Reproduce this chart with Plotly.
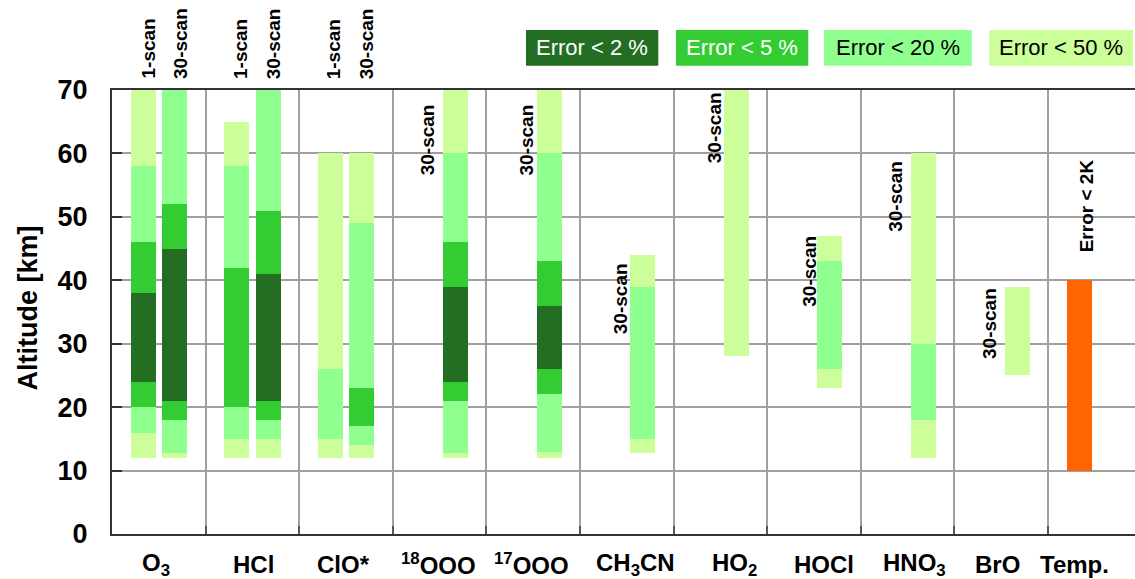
import plotly.graph_objects as go

# ---------------- data ----------------
categories = ["O<sub>3</sub>", "HCl", "ClO*", "<sup>18</sup>OOO", "<sup>17</sup>OOO",
              "CH<sub>3</sub>CN", "HO<sub>2</sub>", "HOCl", "HNO<sub>3</sub>", "BrO", "Temp."]

# layer boundaries [km] and error class [%] of each layer, bottom to top
o3_1_edges = [12, 16, 20, 24, 38, 46, 58, 70]
o3_1_class = [50, 20, 5, 2, 5, 20, 50]
o3_30_edges = [12, 12.8, 18, 21, 45, 52, 70]
o3_30_class = [50, 20, 5, 2, 5, 20]
hcl_1_edges = [12, 15, 20, 42, 58, 65]
hcl_1_class = [50, 20, 5, 20, 50]
hcl_30_edges = [12, 15, 18, 21, 41, 51, 70]
hcl_30_class = [50, 20, 5, 2, 5, 20]
clo_1_edges = [12, 15, 26, 60]
clo_1_class = [50, 20, 50]
clo_30_edges = [12, 14, 17, 23, 49, 60]
clo_30_class = [50, 20, 5, 20, 50]
o18_edges = [12, 12.8, 21, 24, 39, 46, 60, 70]
o18_class = [50, 20, 5, 2, 5, 20, 50]
o17_edges = [12, 13, 22, 26, 36, 43, 60, 70]
o17_class = [50, 20, 5, 2, 5, 20, 50]
ch3cn_edges = [12.8, 15, 39, 44]
ch3cn_class = [50, 20, 50]
ho2_edges = [28, 70]
ho2_class = [50]
hocl_edges = [23, 26, 43, 47]
hocl_class = [50, 20, 50]
hno3_edges = [12, 18, 30, 60]
hno3_class = [50, 20, 50]
bro_edges = [25, 39]
bro_class = [50]
temp_edges = [10, 40]

error_classes = [2, 5, 20, 50]
legend_labels = ["Error < 2 %", "Error < 5 %", "Error < 20 %", "Error < 50 %"]
class_colors = {2: "#236E23", 5: "#33CC33", 20: "#8FFF8F", 50: "#CCFF99"}
temp_color = "#FF6600"

# ---------------- layout helpers ----------------
FIG_W, FIG_H = 1135, 579
M_L, M_R, M_T, M_B = 112, 0, 90, 45
PLOT_W = FIG_W - M_L - M_R
PLOT_H = FIG_H - M_T - M_B
CAT_PX = 93.6                       # width of one category column in pixels
X_MAX = PLOT_W / CAT_PX
BAR_W = 0.267
SLOT = {"L": -0.165, "R": 0.17}
FONT = "Liberation Sans, Arial, Helvetica, sans-serif"


def px_x(px):
    return (px - M_L) / PLOT_W


def px_y(py):
    return (FIG_H - M_B - py) / PLOT_H


# (category index, slot, edges, classes)
bars = [
    (0, "L", o3_1_edges, o3_1_class),
    (0, "R", o3_30_edges, o3_30_class),
    (1, "L", hcl_1_edges, hcl_1_class),
    (1, "R", hcl_30_edges, hcl_30_class),
    (2, "L", clo_1_edges, clo_1_class),
    (2, "R", clo_30_edges, clo_30_class),
    (3, "R", o18_edges, o18_class),
    (4, "R", o17_edges, o17_class),
    (5, "R", ch3cn_edges, ch3cn_class),
    (6, "R", ho2_edges, ho2_class),
    (7, "R", hocl_edges, hocl_class),
    (8, "R", hno3_edges, hno3_class),
    (9, "R", bro_edges, bro_class),
]

fig = go.Figure()

for cls in error_classes:
    xs, bases, heights = [], [], []
    for ci, slot, edges, classes in bars:
        for k, c in enumerate(classes):
            if c == cls:
                xs.append(ci + 0.5 + SLOT[slot])
                bases.append(edges[k])
                heights.append(edges[k + 1] - edges[k])
    fig.add_trace(go.Bar(x=xs, y=heights, base=bases, width=BAR_W,
                         marker=dict(color=class_colors[cls], line=dict(width=0)),
                         showlegend=False, hoverinfo="skip"))

# temperature column
fig.add_trace(go.Bar(x=[10 + 0.5 + SLOT["L"]], y=[temp_edges[1] - temp_edges[0]],
                     base=[temp_edges[0]], width=BAR_W,
                     marker=dict(color=temp_color, line=dict(width=0)),
                     showlegend=False, hoverinfo="skip"))

annotations = []
shapes = []

# category names below the axis
label_px = [155.9, 253.3, 343.8, 438.0, 531.7, 635.0, 734.0, 823.6, 914.6, 997.6, 1074.0]
for name, px in zip(categories, label_px):
    annotations.append(dict(text=name, x=px_x(px), xref="paper", y=px_y(564), yref="paper",
                            xanchor="center", yanchor="middle", showarrow=False, borderpad=0,
                            font=dict(family=FONT, size=24, color="black", weight="bold")))

# scan labels above the plot
top_labels = [("1-scan", 147.5), ("30-scan", 180.5), ("1-scan", 240.0),
              ("30-scan", 273.8), ("1-scan", 333.3), ("30-scan", 366.8)]
for txt, px in top_labels:
    annotations.append(dict(text=txt, x=px_x(px), xref="paper", y=px_y(80), yref="paper",
                            xanchor="center", yanchor="bottom", textangle=-90, showarrow=False,
                            borderpad=0,
                            font=dict(family=FONT, size=19, color="black", weight="bold")))

# labels beside the single columns
side_labels = [("30-scan", 427.5, 103.3), ("30-scan", 526.0, 104.0), ("30-scan", 620.0, 262.7),
               ("30-scan", 714.0, 91.7), ("30-scan", 809.2, 235.0), ("30-scan", 895.3, 160.0),
               ("30-scan", 988.8, 286.7), ("Error < 2K", 1086.5, 158.3)]
for txt, px, py in side_labels:
    annotations.append(dict(text=txt, x=px_x(px), xref="paper", y=px_y(py), yref="paper",
                            xanchor="center", yanchor="top", textangle=-90, showarrow=False,
                            borderpad=0,
                            font=dict(family=FONT, size=19, color="black", weight="bold")))

# y axis title
annotations.append(dict(text="Altitude [km]", x=px_x(27.5), xref="paper", y=px_y(308),
                        yref="paper", xanchor="center", yanchor="middle", textangle=-90,
                        showarrow=False,
                        font=dict(family=FONT, size=27, color="black", weight="bold")))

# error-class key boxes
key_boxes = [(526, 658.3), (676, 808.3), (824, 971.7), (989.3, 1133.3)]
key_text_colors = ["white", "white", "black", "black"]
for cls, lab, (x0, x1), tc in zip(error_classes, legend_labels, key_boxes, key_text_colors):
    shapes.append(dict(type="rect", xref="paper", yref="paper",
                       x0=px_x(x0), x1=px_x(x1), y0=px_y(65.7), y1=px_y(30),
                       fillcolor=class_colors[cls], line=dict(width=0), layer="above"))
    annotations.append(dict(text=lab, x=px_x((x0 + x1) / 2), xref="paper",
                            y=px_y(47.8), yref="paper", xanchor="center", yanchor="middle",
                            showarrow=False, font=dict(family=FONT, size=22, color=tc)))

fig.update_layout(
    width=FIG_W, height=FIG_H,
    margin=dict(l=M_L, r=M_R, t=M_T, b=M_B, pad=0),
    paper_bgcolor="white", plot_bgcolor="white",
    barmode="overlay", bargap=0,
    annotations=annotations, shapes=shapes,
    font=dict(family=FONT, color="black"),
)

fig.update_xaxes(
    range=[0, X_MAX], tickmode="array", tickvals=list(range(1, 11)),
    showticklabels=False, showgrid=True, gridcolor="#A0A0A0", gridwidth=1.5,
    ticks="inside", ticklen=8, tickcolor="#555555", tickwidth=1.5,
    showline=True, linecolor="#333333", linewidth=2, mirror=True, zeroline=False,
    fixedrange=True,
)
fig.update_yaxes(
    range=[0, 70], tickmode="array", tickvals=list(range(0, 71, 10)),
    showgrid=True, gridcolor="#A0A0A0", gridwidth=1.5,
    ticks="inside", ticklen=10, tickcolor="#333333", tickwidth=2,
    showline=True, linecolor="#333333", linewidth=2, zeroline=False,
    tickfont=dict(family=FONT, size=27, color="black", weight="bold"),
    ticklabelstandoff=17, fixedrange=True,
)

fig.write_html("out.html", config={"displayModeBar": False})
